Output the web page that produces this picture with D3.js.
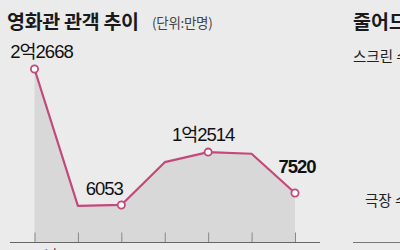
<!DOCTYPE html>
<html>
<head>
<meta charset="utf-8">
<script src="https://cdn.jsdelivr.net/npm/d3@7"></script>
<style>
  body { margin: 0; background: #ebebeb; }
  svg { display: block; }
</style>
</head>
<body>
<svg id="chart"></svg>
<script>
const width = 400;
const height = 250;

const years = [2019, 2020, 2021, 2022, 2023, 2024, 2025];
const audience = [22668, 5952, 6053, 11281, 12514, 12313, 7520];
const tickLabels = ["2019년", "", "2021", "", "2023", "", "2025"];
const pointLabels = ["2억2668", "", "6053", "", "1억2514", "", "7520"];
const circled = [true, false, true, false, true, false, true];

const lineColor = "#c4497b";
const axisY = 242.5;

const svg = d3.select("#chart").attr("width", width).attr("height", height);

const data = years.map((y, i) => ({
  year: y,
  value: audience[i],
  label: pointLabels[i],
  tick: tickLabels[i],
  dot: circled[i]
}));

const xScale = d3.scaleLinear().domain([2019, 2025]).range([34.5, 295]);
const yScale = d3.scaleLinear().domain([0, 22668]).range([254.5, 69]);

// Titles
svg.append("text")
  .attr("x", 7).attr("y", 29)
  .attr("font-family", "'Noto Sans CJK KR', sans-serif")
  .attr("font-size", 19.5).attr("font-weight", 700)
  .attr("fill", "#1a1a1a")
  .attr("letter-spacing", -0.3)
  .text("영화관 관객 추이");

svg.append("text")
  .attr("x", 152).attr("y", 27.5)
  .attr("font-family", "'Noto Sans CJK KR', sans-serif")
  .attr("font-size", 13.5)
  .attr("fill", "#444")
  .attr("letter-spacing", -0.3)
  .text("(단위:만명)");

svg.append("text")
  .attr("x", 353).attr("y", 29)
  .attr("font-family", "'Noto Sans CJK KR', sans-serif")
  .attr("font-size", 19.5).attr("font-weight", 700)
  .attr("fill", "#1a1a1a")
  .text("줄어드는");

svg.append("text")
  .attr("x", 353).attr("y", 62)
  .attr("font-family", "'Noto Sans CJK KR', sans-serif")
  .attr("font-size", 14.5)
  .attr("fill", "#222")
  .text("스크린 수");

svg.append("text")
  .attr("x", 365).attr("y", 206)
  .attr("font-family", "'Noto Sans CJK KR', sans-serif")
  .attr("font-size", 14.5)
  .attr("fill", "#222")
  .text("극장 수");

svg.append("line")
  .attr("x1", 353).attr("x2", 400)
  .attr("y1", axisY).attr("y2", axisY)
  .attr("stroke", "#777").attr("stroke-width", 1);

// Area
const area = d3.area()
  .x((d) => xScale(d.year))
  .y0(axisY)
  .y1((d) => yScale(d.value));

svg.append("path")
  .datum(data)
  .attr("d", area)
  .attr("fill", "#d8d8d8");

// X-axis
const xAxis = d3.axisBottom(xScale)
  .tickValues(years)
  .tickSize(10)
  .tickFormat((d, i) => tickLabels[i]);

const gx = svg.append("g")
  .attr("transform", `translate(0, ${axisY})`)
  .call(xAxis);
gx.select(".domain").remove();
gx.selectAll(".tick line")
  .attr("y2", -10)
  .attr("stroke", "#888");
gx.selectAll(".tick text")
  .attr("y", 8)
  .attr("dy", "0.71em")
  .attr("font-family", "'Liberation Sans', 'Noto Sans CJK KR', sans-serif")
  .attr("font-size", 14)
  .attr("fill", "#333");
gx.append("line")
  .attr("x1", 10).attr("x2", 320)
  .attr("stroke", "#666").attr("stroke-width", 1.2);

// Line
const line = d3.line()
  .x((d) => xScale(d.year))
  .y((d) => yScale(d.value));

svg.append("path")
  .datum(data)
  .attr("d", line)
  .attr("fill", "none")
  .attr("stroke", lineColor)
  .attr("stroke-width", 2.2)
  .attr("stroke-linejoin", "round");

// Dots
svg.selectAll(".dot")
  .data(data.filter((d) => d.dot))
  .enter()
  .append("circle")
  .attr("class", "dot")
  .attr("cx", (d) => xScale(d.year))
  .attr("cy", (d) => yScale(d.value))
  .attr("r", 3.6)
  .attr("fill", "#fff")
  .attr("stroke", lineColor)
  .attr("stroke-width", 1.8);

// Value labels
const labelOffsets = {
  2019: [7, -11],
  2021: [-17, -10],
  2023: [-5, -11],
  2025: [2, -20]
};

svg.selectAll(".vlabel")
  .data(data.filter((d) => d.label))
  .enter()
  .append("text")
  .attr("class", "vlabel")
  .attr("x", (d) => xScale(d.year) + labelOffsets[d.year][0])
  .attr("y", (d) => yScale(d.value) + labelOffsets[d.year][1])
  .attr("text-anchor", "middle")
  .attr("font-family", "'Liberation Sans', 'Noto Sans CJK KR', sans-serif")
  .attr("font-size", 18.5)
  .attr("font-weight", (d) => (d.year === 2025 ? 700 : 400))
  .attr("letter-spacing", -1)
  .attr("fill", "#111")
  .text((d) => d.label);
</script>
</body>
</html>
